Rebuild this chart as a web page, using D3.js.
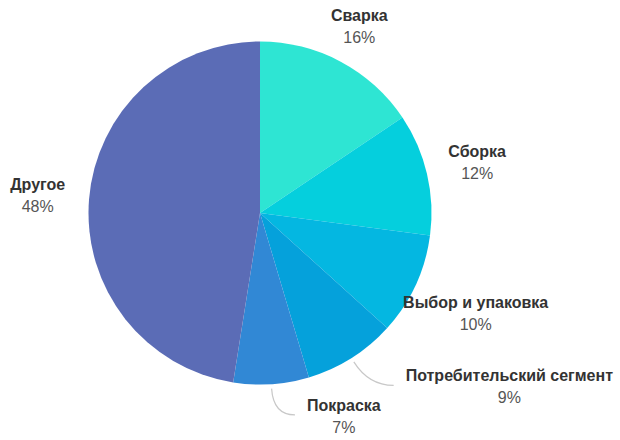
<!DOCTYPE html>
<html>
<head>
<meta charset="utf-8">
<script src="https://cdn.jsdelivr.net/npm/d3@7"></script>
<style>
  body { margin: 0; background: #fff; }
  svg { display: block; font-family: "Liberation Sans", Arial, sans-serif; }
</style>
</head>
<body>
<div class="chart"></div>
<script>
// slice data, clockwise from 12 o'clock
var categories = ["Сварка", "Сборка", "Выбор и упаковка", "Потребительский сегмент", "Покраска", "Другое"];
var shares = [15.6, 11.5, 9.6, 8.7, 7.1, 47.5];
var colors = ["#2ee5d3", "#05cfdd", "#04b7e1", "#05a1db", "#3188d5", "#5b6cb6"];

var width = 620, height = 440;
var cx = 260, cy = 213, radius = 171.5;

// where each label block sits: angle (deg, null = slice mid-angle) and distance from centre
var labelPos = [
  {angle: null, dist: 211},
  {angle: null, dist: 223},
  {angle: 115, dist: 238},
  {angle: 124.9, dist: 304, tick: true},
  {angle: 157.6, dist: 220, tick: true},
  {angle: null, dist: 223}
];

var svg = d3.select(".chart").append("svg")
  .attr("width", width)
  .attr("height", height);

var g = svg.append("g").attr("transform", "translate(" + cx + "," + cy + ")");

var total = d3.sum(shares);
var slices = categories.map(function(c, i) { return {name: c, value: shares[i], color: colors[i], i: i}; });

var pie = d3.pie().value(function(d) { return d.value; }).sort(null);
var arc = d3.arc().innerRadius(0).outerRadius(radius);
var arcs = pie(slices);

g.selectAll("path.slice").data(arcs).enter()
  .append("path")
  .attr("class", "slice")
  .attr("d", arc)
  .attr("fill", function(d) { return d.data.color; });

function polar(angle, r) {
  return [Math.sin(angle) * r, -Math.cos(angle) * r];
}

var rad = Math.PI / 180;

arcs.forEach(function(d) {
  var mid = (d.startAngle + d.endAngle) / 2;
  var lp = labelPos[d.data.i];
  var p = polar(lp.angle == null ? mid : lp.angle * rad, lp.dist);

  var lab = g.append("g").attr("transform", "translate(" + p[0] + "," + p[1] + ")");
  var t1 = lab.append("text")
    .attr("text-anchor", "middle")
    .attr("y", -5.5)
    .attr("font-size", 16)
    .attr("font-weight", "bold")
    .attr("fill", "#333")
    .text(d.data.name);
  lab.append("text")
    .attr("text-anchor", "middle")
    .attr("y", 16.5)
    .attr("font-size", 16)
    .attr("fill", "#555")
    .text(Math.round(d.data.value / total * 100) + "%");

  if (lp.tick) {
    // curved tick from the slice edge to the label
    var w = t1.node().getComputedTextLength();
    var s = polar(mid, radius + 4.5);
    var ey = p[1] - 1.5;
    var ex = p[0] - w / 2 - 12;
    var dir = polar(mid, 1);
    var k = (ey - s[1]) / dir[1];
    var c = [s[0] + dir[0] * k, ey];
    g.append("path")
      .attr("d", "M" + s[0] + "," + s[1] + "Q" + c[0] + "," + c[1] + " " + ex + "," + ey)
      .attr("fill", "none")
      .attr("stroke", "#c8c8c8")
      .attr("stroke-width", 1.2);
  }
});
</script>
</body>
</html>
